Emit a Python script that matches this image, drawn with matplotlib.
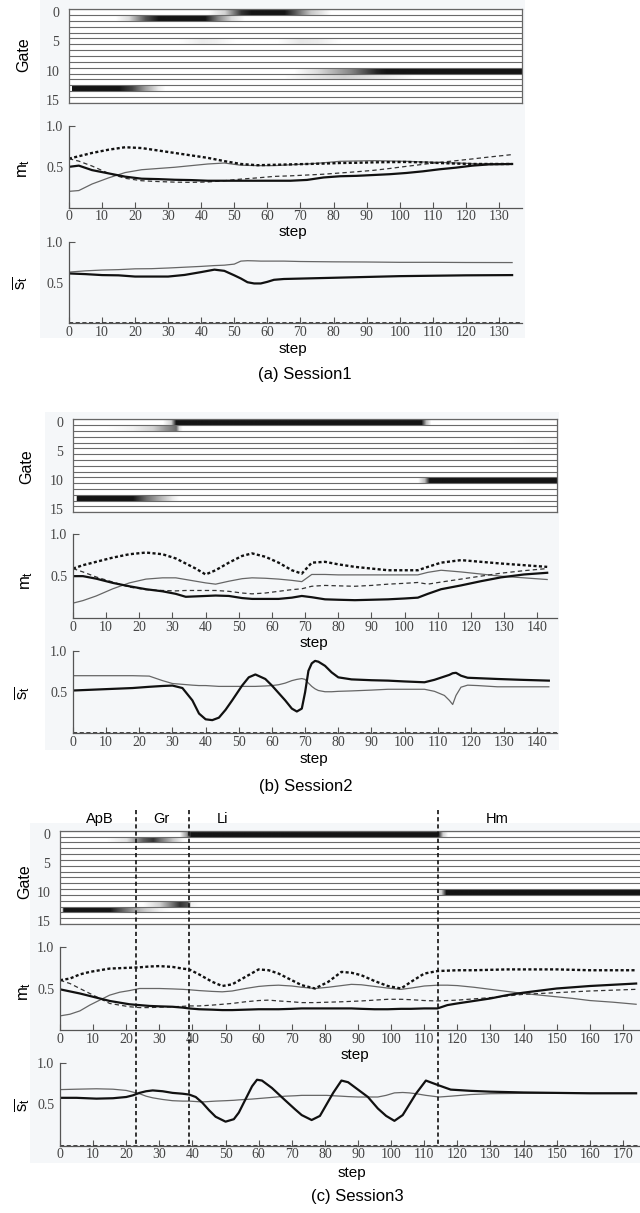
import numpy as np
import matplotlib
matplotlib.use("Agg")
import matplotlib.pyplot as plt
import matplotlib.transforms as mtransforms
from matplotlib.colors import Normalize
from matplotlib.image import NonUniformImage
from matplotlib.lines import Line2D
from matplotlib.patches import Rectangle

plt.rcParams['font.family'] = ['Liberation Sans', 'DejaVu Sans']
plt.rcParams['mathtext.fontset'] = 'custom'
plt.rcParams['mathtext.rm'] = 'Liberation Sans'
plt.rcParams['mathtext.it'] = 'Liberation Sans'
plt.rcParams['mathtext.bf'] = 'Liberation Sans:bold'

W, H = 640, 1213

# ---------------- Session 1 ----------------
# gate activation: row -> (step knots, intensity)
s1_gates = {
    0: ([42, 47, 52, 55, 65, 68, 73, 79], [0, 0.3, 0.9, 1, 1, 0.8, 0.35, 0]),
    1: ([14, 18, 23, 27, 41, 45, 49, 53], [0, 0.25, 0.8, 1, 1, 0.6, 0.25, 0]),
    5: ([33, 40, 44, 50, 63, 70, 75, 82], [0, 0.15, 0.12, 0, 0, 0.18, 0.15, 0]),
    10: ([68, 75, 85, 93, 96, 137], [0, 0.25, 0.6, 0.95, 1, 1]),
    11: ([65, 75, 83, 92, 104], [0, 0.2, 0.3, 0.2, 0]),
    13: ([0.6, 0.9, 15, 19, 23, 27, 29], [0, 1, 1, 0.85, 0.5, 0.15, 0]),
}
s1_mt_step = [0, 3, 7, 12, 17, 22, 27, 32, 37, 42, 47, 52, 57, 62, 67, 72, 77, 82, 87, 92,
              97, 102, 107, 112, 117, 122, 127, 134]
s1_mt_dash_thick = [0.60, 0.63, 0.67, 0.71, 0.74, 0.73, 0.70, 0.67, 0.64, 0.61, 0.57, 0.535, 0.52, 0.525,
                    0.53, 0.535, 0.54, 0.547, 0.55, 0.555, 0.558, 0.56, 0.555, 0.547, 0.54, 0.535, 0.535, 0.535]
s1_mt_dash_thin = [0.60, 0.57, 0.51, 0.42, 0.36, 0.33, 0.32, 0.313, 0.31, 0.315, 0.33, 0.35, 0.365, 0.383,
                   0.39, 0.40, 0.41, 0.425, 0.44, 0.457, 0.48, 0.506, 0.53, 0.555, 0.575, 0.597, 0.62, 0.65]
s1_mt_solid_thick = [0.50, 0.515, 0.46, 0.42, 0.38, 0.355, 0.35, 0.342, 0.338, 0.33, 0.33, 0.33, 0.33, 0.33,
                     0.33, 0.34, 0.37, 0.385, 0.39, 0.40, 0.41, 0.425, 0.445, 0.47, 0.49, 0.515, 0.53, 0.535]
s1_mt_solid_thin = [0.20, 0.21, 0.29, 0.365, 0.43, 0.465, 0.48, 0.495, 0.515, 0.535, 0.547, 0.52, 0.515, 0.515,
                    0.525, 0.535, 0.55, 0.568, 0.572, 0.576, 0.572, 0.568, 0.56, 0.555, 0.548, 0.54, 0.537, 0.535]
s1_st_step = [0, 5, 10, 15, 20, 25, 30, 35, 40, 44, 47, 50, 52, 54, 56, 58, 60, 62, 65, 70,
              80, 90, 100, 110, 120, 134]
s1_st_thin = [0.63, 0.645, 0.655, 0.66, 0.67, 0.672, 0.68, 0.69, 0.70, 0.71, 0.715, 0.728, 0.765, 0.77,
              0.768, 0.765, 0.765, 0.765, 0.765, 0.76, 0.756, 0.754, 0.75, 0.75, 0.748, 0.747]
s1_st_thick = [0.613, 0.605, 0.593, 0.59, 0.575, 0.575, 0.575, 0.595, 0.63, 0.66, 0.645, 0.59, 0.551, 0.505,
               0.49, 0.49, 0.51, 0.535, 0.545, 0.55, 0.56, 0.57, 0.58, 0.585, 0.59, 0.593]

# ---------------- Session 2 ----------------
s2_gates = {
    0: ([27, 29.5, 31, 105, 106.5, 108], [0, 0.3, 1, 1, 0.4, 0]),
    1: ([10, 18, 24, 28, 31, 32, 33], [0, 0.12, 0.3, 0.55, 0.7, 0.2, 0]),
    3: ([132, 140, 146], [0, 0.08, 0.08]),
    10: ([104, 106, 107.5, 146], [0, 0.4, 1, 1]),
    13: ([0.8, 1.2, 18, 22, 26, 30, 32], [0, 1, 1, 0.7, 0.45, 0.15, 0]),
}
s2_mt_step = [0, 3, 7, 12, 17, 22, 27, 31, 34, 37, 40, 43, 47, 51, 54, 58, 62, 66, 69, 72,
              76, 80, 85, 90, 95, 100, 104, 107, 111, 117, 123, 129, 136, 143]
s2_mt_dash_thick = [0.59, 0.63, 0.67, 0.72, 0.76, 0.78, 0.76, 0.71, 0.65, 0.59, 0.52, 0.57, 0.66, 0.74, 0.77,
                    0.73, 0.66, 0.57, 0.53, 0.66, 0.67, 0.64, 0.61, 0.59, 0.57, 0.57, 0.57, 0.61, 0.66, 0.69,
                    0.67, 0.65, 0.63, 0.61]
s2_mt_dash_thin = [0.59, 0.55, 0.49, 0.43, 0.37, 0.34, 0.33, 0.325, 0.33, 0.33, 0.33, 0.33, 0.32, 0.30, 0.29,
                   0.30, 0.32, 0.34, 0.35, 0.38, 0.39, 0.385, 0.38, 0.39, 0.405, 0.415, 0.425, 0.405, 0.43,
                   0.465, 0.50, 0.535, 0.565, 0.59]
s2_mt_solid_thick = [0.50, 0.50, 0.47, 0.42, 0.38, 0.345, 0.32, 0.29, 0.255, 0.26, 0.265, 0.27, 0.265, 0.24,
                     0.23, 0.23, 0.23, 0.245, 0.265, 0.25, 0.225, 0.22, 0.215, 0.22, 0.225, 0.235, 0.245,
                     0.29, 0.345, 0.39, 0.44, 0.485, 0.52, 0.54]
s2_mt_solid_thin = [0.18, 0.21, 0.265, 0.35, 0.42, 0.465, 0.48, 0.48, 0.46, 0.44, 0.42, 0.405, 0.44, 0.47,
                    0.48, 0.475, 0.465, 0.45, 0.435, 0.52, 0.52, 0.515, 0.515, 0.515, 0.515, 0.515, 0.515,
                    0.545, 0.57, 0.55, 0.525, 0.50, 0.48, 0.46]
s2_st_step = [0, 6, 12, 18, 23, 27, 30, 33, 36, 38, 40, 42, 44, 46, 48, 51, 53, 55, 58, 60,
              62, 64, 66, 67.5, 69, 70, 71, 72, 73, 74, 76, 78, 80, 84, 90, 95, 100, 106, 109, 112,
              113.5, 114.5, 115.5, 117, 119, 122, 128, 135, 143.5]
s2_st_thick = [0.52, 0.53, 0.54, 0.55, 0.565, 0.575, 0.58, 0.55, 0.40, 0.24,
               0.17, 0.16, 0.19, 0.285, 0.40, 0.58, 0.68, 0.715, 0.66, 0.58,
               0.49, 0.40, 0.30, 0.265, 0.30, 0.50, 0.76, 0.85, 0.88, 0.87,
               0.82, 0.74, 0.68, 0.655, 0.645, 0.64, 0.63, 0.62, 0.65, 0.69,
               0.71, 0.73, 0.735, 0.70, 0.675, 0.67, 0.66, 0.65, 0.64]
s2_st_thin = [0.70, 0.70, 0.70, 0.70, 0.695, 0.64, 0.605, 0.595, 0.585, 0.58,
              0.58, 0.575, 0.57, 0.57, 0.57, 0.57, 0.57, 0.57, 0.575, 0.58,
              0.59, 0.61, 0.64, 0.655, 0.665, 0.655, 0.61, 0.57, 0.54, 0.52,
              0.505, 0.505, 0.51, 0.515, 0.525, 0.535, 0.535, 0.535, 0.51, 0.46,
              0.40, 0.35, 0.46, 0.56, 0.585, 0.58, 0.565, 0.565, 0.565]

# ---------------- Session 3 ----------------
s3_gates = {
    0: ([36, 38, 39.5, 114, 115.5, 117], [0, 0.5, 1, 1, 0.3, 0]),
    1: ([14, 20, 25, 28, 30, 34, 37, 38], [0, 0.2, 0.75, 0.9, 0.7, 0.35, 0.05, 0]),
    10: ([113.5, 115, 116.5, 178], [0, 0.3, 1, 1]),
    12: ([25, 30, 34, 36, 38.5, 39.5, 42], [0, 0.3, 0.7, 0.9, 0.8, 0.1, 0]),
    13: ([0.5, 1, 15, 18, 22, 26, 30, 33], [0, 1, 1, 0.8, 0.5, 0.3, 0.1, 0]),
}
s3_phase_names = ["ApB", "Gr", "Li", "Hm"]
s3_phase_label_step = [12, 30.5, 49, 132]
s3_phase_bounds = [23, 39, 114.3]

s3_mt_step = [0, 3, 6, 9, 12, 15, 18, 21, 24, 27, 30, 34, 37, 39, 42, 46, 49, 52, 56, 60,
              63, 66, 70, 73, 77, 81, 85, 88, 91, 95, 99, 103, 106, 110, 114, 117, 120, 125, 130, 135,
              140, 145, 150, 155, 160, 167, 174]
s3_mt_dash_thick = [0.60, 0.62, 0.67, 0.70, 0.72, 0.74, 0.745, 0.75, 0.755, 0.765,
                    0.77, 0.76, 0.74, 0.73, 0.67, 0.58, 0.53, 0.55, 0.64, 0.73,
                    0.72, 0.68, 0.60, 0.54, 0.50, 0.58, 0.70, 0.69, 0.66, 0.59,
                    0.53, 0.50, 0.58, 0.68, 0.71, 0.715, 0.72, 0.72, 0.725, 0.73,
                    0.73, 0.73, 0.73, 0.725, 0.72, 0.72, 0.72]
s3_mt_dash_thin = [0.60, 0.56, 0.50, 0.44, 0.38, 0.32, 0.30, 0.28, 0.27, 0.27,
                   0.275, 0.28, 0.285, 0.29, 0.29, 0.30, 0.31, 0.32, 0.34, 0.355,
                   0.36, 0.35, 0.34, 0.33, 0.33, 0.335, 0.34, 0.345, 0.35, 0.36,
                   0.37, 0.37, 0.365, 0.355, 0.35, 0.355, 0.36, 0.375, 0.39, 0.41,
                   0.43, 0.44, 0.45, 0.46, 0.47, 0.48, 0.49]
s3_mt_solid_thick = [0.49, 0.465, 0.44, 0.41, 0.38, 0.35, 0.33, 0.31, 0.30, 0.29,
                     0.285, 0.28, 0.27, 0.26, 0.25, 0.245, 0.24, 0.24, 0.245, 0.25,
                     0.25, 0.25, 0.255, 0.26, 0.26, 0.26, 0.26, 0.26, 0.255, 0.25,
                     0.25, 0.255, 0.255, 0.26, 0.26, 0.30, 0.32, 0.35, 0.38, 0.42,
                     0.45, 0.475, 0.50, 0.515, 0.53, 0.545, 0.56]
s3_mt_solid_thin = [0.17, 0.19, 0.23, 0.30, 0.36, 0.42, 0.455, 0.475, 0.50, 0.50,
                    0.50, 0.495, 0.49, 0.485, 0.475, 0.465, 0.46, 0.47, 0.50, 0.525,
                    0.535, 0.54, 0.53, 0.515, 0.50, 0.515, 0.535, 0.55, 0.545, 0.525,
                    0.505, 0.49, 0.505, 0.53, 0.54, 0.54, 0.535, 0.515, 0.49, 0.465,
                    0.44, 0.42, 0.40, 0.38, 0.355, 0.335, 0.31]
s3_st_step = [0, 5, 11, 16, 20, 22, 24, 26, 28, 31, 34, 37, 39, 41, 43, 45, 47, 50, 52.5, 54,
              56, 58, 59.5, 61, 64, 68, 71, 73, 76, 78.5, 80.5, 82.5, 85, 87, 90, 93, 96, 98.5, 101, 103.5,
              105.5, 107.5, 110.5, 112.5, 114.5, 118, 124, 130, 140, 150, 160, 174]
s3_st_thick = [0.58, 0.58, 0.57, 0.575, 0.59, 0.61, 0.64, 0.66, 0.67, 0.66,
               0.64, 0.63, 0.62, 0.59, 0.52, 0.43, 0.35, 0.29, 0.32, 0.40,
               0.56, 0.72, 0.80, 0.79, 0.70, 0.55, 0.44, 0.37, 0.31, 0.36,
               0.50, 0.64, 0.79, 0.77, 0.68, 0.59, 0.45, 0.36, 0.30, 0.37,
               0.50, 0.63, 0.79, 0.76, 0.73, 0.68, 0.665, 0.655, 0.645, 0.64,
               0.635, 0.635]
s3_st_thin = [0.68, 0.685, 0.69, 0.685, 0.67, 0.65, 0.63, 0.60, 0.58, 0.56,
              0.545, 0.54, 0.54, 0.535, 0.53, 0.535, 0.54, 0.545, 0.55, 0.555,
              0.56, 0.565, 0.57, 0.575, 0.585, 0.60, 0.605, 0.61, 0.61, 0.61,
              0.61, 0.605, 0.60, 0.595, 0.59, 0.59, 0.59, 0.61, 0.64, 0.645,
              0.64, 0.63, 0.61, 0.60, 0.59, 0.60, 0.62, 0.63, 0.635, 0.635,
              0.635, 0.635]

TICK_FONT = dict(fontfamily='Liberation Serif', fontsize=10, color='#444444')

STY_DASH_THICK = dict(color='#111111', lw=1.7, linestyle=(0, (1.3, 1.0)))
STY_DASH_THIN = dict(color='#333333', lw=0.9, linestyle=(0, (3.5, 2.5)))
STY_SOLID_THICK = dict(color='#111111', lw=1.6)
STY_SOLID_THIN = dict(color='#666666', lw=0.9)


def add_axes_px(fig, left, right, top, bottom):
    return fig.add_axes([left / W, 1 - bottom / H, (right - left) / W, (bottom - top) / H])


def fig_text(fig, x, y, s, **kw):
    fig.text(x / W, 1 - y / H, s, ha='center', va='center', **kw)


def draw_gates(ax, gates, xmax):
    ax.set_facecolor('white')
    norm = Normalize(vmin=0, vmax=1.08)
    for row, (xs, vs) in gates.items():
        # one band per gate, shaded horizontally between the read knots
        im = NonUniformImage(ax, interpolation='bilinear', cmap='Greys', norm=norm)
        im.set_data(np.array(xs, dtype=float), np.array([row - 0.5, row + 0.5]),
                    np.array([vs, vs], dtype=float))
        band = Rectangle((xs[0], row - 0.5), xs[-1] - xs[0], 1, transform=ax.transData)
        im.set_clip_path(band)
        ax.add_image(im)
    ax.hlines(np.arange(-0.5, 16, 1), 0, xmax, colors='#6a6a6a', lw=0.8)
    ax.set_xlim(0, xmax)
    ax.set_ylim(15.5, -0.5)
    ax.set_xticks([])
    ax.set_yticks([0, 5, 10, 15], labels=['0', '5', '10', '15'], **TICK_FONT)
    ax.tick_params(axis='y', length=0, pad=7)
    for sp in ax.spines.values():
        sp.set_color('#666666')
        sp.set_linewidth(0.9)


def style_line_axes(ax, xmax, xtick_max):
    ax.set_facecolor('none')
    ax.set_xlim(0, xmax)
    ax.set_ylim(0, 1)
    for s in ['top', 'right']:
        ax.spines[s].set_visible(False)
    for s in ['left', 'bottom']:
        ax.spines[s].set_color('#555555')
        ax.spines[s].set_linewidth(0.9)
    ticks = list(range(0, xtick_max + 1, 10))
    ax.set_xticks(ticks, labels=[str(t) for t in ticks], **TICK_FONT)
    ax.set_yticks([0.5, 1.0], labels=['0.5', '1.0'], **TICK_FONT)
    ax.tick_params(direction='in', length=4, width=0.8, color='#555555', pad=2)
    ax.tick_params(axis='y', pad=4)
    ax.yaxis.get_major_ticks()[0].tick1line.set_visible(False)


def draw_session(fig, box, gates, mt_step, mt_series, st_step, st_series, xmax, xtick_max):
    left, right, heat_tb, mt_tb, st_tb = box
    ax_g = add_axes_px(fig, left, right, *heat_tb)
    draw_gates(ax_g, gates, xmax)

    ax_m = add_axes_px(fig, left, right, *mt_tb)
    td, tnd, ts, tns = mt_series
    ax_m.plot(mt_step, tns, **STY_SOLID_THIN)
    ax_m.plot(mt_step, tnd, **STY_DASH_THIN)
    ax_m.plot(mt_step, ts, **STY_SOLID_THICK)
    ax_m.plot(mt_step, td, **STY_DASH_THICK)
    style_line_axes(ax_m, xmax, xtick_max)

    ax_s = add_axes_px(fig, left, right, *st_tb)
    thick, thin = st_series
    ax_s.plot(st_step, thin, **STY_SOLID_THIN)
    ax_s.plot(st_step, thick, **STY_SOLID_THICK)
    ax_s.axhline(0, color='#222222', lw=1.2, linestyle=(0, (2.5, 1.5)), clip_on=False)
    style_line_axes(ax_s, xmax, xtick_max)
    return ax_g, ax_m, ax_s


fig = plt.figure(figsize=(W / 100, H / 100), dpi=100)

# light panel backgrounds of the screenshots
for x0, x1, y0, y1 in [(40, 525, 0, 338), (45, 559, 412, 750), (30, 640, 823, 1163)]:
    fig.add_artist(Rectangle((x0 / W, 1 - y1 / H), (x1 - x0) / W, (y1 - y0) / H,
                             transform=fig.transFigure, facecolor='#f5f7f9',
                             edgecolor='none', zorder=-1))

# Session 1
draw_session(fig, (68.9, 521.7, (9.3, 102.7), (126, 207.7), (242, 323.3)),
             s1_gates, s1_mt_step,
             (s1_mt_dash_thick, s1_mt_dash_thin, s1_mt_solid_thick, s1_mt_solid_thin),
             s1_st_step, (s1_st_thick, s1_st_thin), 136.9, 130)
fig_text(fig, 24, 55, 'Gate', rotation=90, fontsize=11.5)
fig_text(fig, 24, 168, '$m_t$', rotation=90, fontsize=12)
fig_text(fig, 20, 283, r'$\overline{s_t}$', rotation=90, fontsize=12)
fig_text(fig, 293, 232, 'step', fontsize=11)
fig_text(fig, 293, 349, 'step', fontsize=11)
fig_text(fig, 305, 375, '(a) Session1', fontsize=12)

# Session 2
draw_session(fig, (73, 557.3, (419.3, 512.3), (534, 618.3), (651, 733.3)),
             s2_gates, s2_mt_step,
             (s2_mt_dash_thick, s2_mt_dash_thin, s2_mt_solid_thick, s2_mt_solid_thin),
             s2_st_step, (s2_st_thick, s2_st_thin), 146.05, 140)
fig_text(fig, 27, 467, 'Gate', rotation=90, fontsize=11.5)
fig_text(fig, 27, 580, '$m_t$', rotation=90, fontsize=12)
fig_text(fig, 22, 693, r'$\overline{s_t}$', rotation=90, fontsize=12)
fig_text(fig, 314, 643, 'step', fontsize=11)
fig_text(fig, 314, 759, 'step', fontsize=11)
fig_text(fig, 306, 787, '(b) Session2', fontsize=12)

# Session 3
ax_g3, ax_m3, ax_s3 = draw_session(
    fig, (60, 649.7, (830.7, 924), (947, 1030), (1063.3, 1145.5)),
    s3_gates, s3_mt_step,
    (s3_mt_dash_thick, s3_mt_dash_thin, s3_mt_solid_thick, s3_mt_solid_thin),
    s3_st_step, (s3_st_thick, s3_st_thin), 178.1, 170)
fig_text(fig, 25, 882, 'Gate', rotation=90, fontsize=11.5)
fig_text(fig, 25, 991, '$m_t$', rotation=90, fontsize=12)
fig_text(fig, 22, 1105, r'$\overline{s_t}$', rotation=90, fontsize=12)
fig_text(fig, 355, 1055, 'step', fontsize=11)
fig_text(fig, 352, 1173, 'step', fontsize=11)
fig_text(fig, 357, 1197, '(c) Session3', fontsize=12)

# phase boundaries spanning the three session-3 panels
blend = mtransforms.blended_transform_factory(ax_g3.transData, fig.transFigure)
for b in s3_phase_bounds:
    fig.add_artist(Line2D([b, b], [1 - 810 / H, 1 - 1146 / H], transform=blend,
                          color='#111111', lw=1.2, linestyle=(0, (2.5, 1.8)), zorder=5))
for name, xs in zip(s3_phase_names, s3_phase_label_step):
    fig.text(xs, 1 - 819 / H, name, transform=blend, ha='center', va='center', fontsize=10.5)

fig.savefig('out.png', dpi=100, facecolor='white')
